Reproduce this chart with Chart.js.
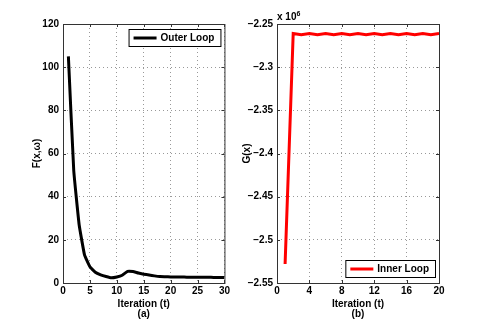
<!DOCTYPE html>
<html>
<head>
<meta charset="utf-8">
<script src="https://cdn.jsdelivr.net/npm/chart.js@4.4.0/dist/chart.umd.min.js"></script>
<style>
  html, body { margin: 0; padding: 0; background: #fff; }
  .wrap { position: absolute; top: 0; height: 319px; }
  #w1 { left: 0; width: 232px; }
  #w2 { left: 240px; width: 245px; }
  #exp { position: absolute; left: 277px; top: 10px; font: bold 10px "Liberation Sans", Arial, sans-serif; }
  #exp sup { font-size: 7px; }
</style>
</head>
<body>
<div class="wrap" id="w1"><canvas id="c1"></canvas></div>
<div class="wrap" id="w2"><canvas id="c2"></canvas></div>
<div id="exp">x 10<sup>6</sup></div>
<script>
// (a) outer loop
const outerT = [1,2,3,4,5,6,7,8,9,10,11,12,13,14,15,16,17,18,19,20,21,22,23,24,25,26,27,28,29,30];
const outerF = [105,52,27,13,7.5,5,3.8,3,2.4,2.8,3.6,5.4,5.3,4.6,4.1,3.7,3.3,3.0,2.9,2.8,2.8,2.8,2.7,2.7,2.7,2.7,2.7,2.6,2.6,2.6];

// (b) inner loop
const innerT = [1,2,3,4,5,6,7,8,9,10,11,12,13,14,15,16,17,18,19,20];
const innerG = [-2528000,-2261000,-2262500,-2261000,-2262500,-2261000,-2262500,-2261000,-2262500,-2261000,
                -2262500,-2261000,-2262500,-2261000,-2262500,-2261000,-2262500,-2261000,-2262500,-2261000];

const FONT = "'Liberation Sans', Arial, sans-serif";
Chart.defaults.font.family = FONT;
Chart.defaults.font.weight = 'bold';
Chart.defaults.font.size = 10;
Chart.defaults.color = '#000';

// frame, inward ticks and legend box drawn inside plot area, matlab style
const boxLegend = {
    id: 'boxLegend',
    afterDraw(chart, args, opts) {
        const ctx = chart.ctx, a = chart.chartArea;
        ctx.save();
        ctx.strokeStyle = '#333';
        ctx.lineWidth = 1;
        ctx.strokeRect(a.left + 0.5, a.top + 0.5, a.right - a.left, a.bottom - a.top);

        const sx = chart.scales.x, sy = chart.scales.y;
        ctx.beginPath();
        sx.ticks.forEach(t => {
            const px = Math.round(sx.getPixelForValue(t.value)) + 0.5;
            ctx.moveTo(px, a.bottom); ctx.lineTo(px, a.bottom - 3);
            ctx.moveTo(px, a.top); ctx.lineTo(px, a.top + 3);
        });
        sy.ticks.forEach(t => {
            const py = Math.round(sy.getPixelForValue(t.value)) + 0.5;
            ctx.moveTo(a.left, py); ctx.lineTo(a.left + 3, py);
            ctx.moveTo(a.right, py); ctx.lineTo(a.right - 3, py);
        });
        ctx.stroke();

        const ds = chart.data.datasets[0];
        ctx.font = 'bold 10px ' + FONT;
        const tw = ctx.measureText(ds.label).width;
        const w = tw + 38, h = 17;
        const x = a.right - w - 4;
        const y = opts.pos === 'top' ? a.top + 5 : a.bottom - h - 6;
        ctx.fillStyle = '#fff';
        ctx.fillRect(x, y, w, h);
        ctx.strokeStyle = '#000';
        ctx.strokeRect(x + 0.5, y + 0.5, w, h);
        ctx.strokeStyle = ds.borderColor;
        ctx.lineWidth = 3;
        ctx.beginPath();
        ctx.moveTo(x + 5, y + h / 2 + 0.5);
        ctx.lineTo(x + 28, y + h / 2 + 0.5);
        ctx.stroke();
        ctx.fillStyle = '#000';
        ctx.textBaseline = 'middle';
        ctx.fillText(ds.label, x + 32, y + h / 2 + 1);
        ctx.restore();
    }
};

const gridStyle = { color: '#999', lineWidth: 1, drawTicks: false };
const borderStyle = { display: false, dash: [1, 3] };

function makeChart(id, xs, ys, label, color, tension, xmax, xstep, ymin, ymax, ystep, yTitle, sub, pos, yw, pad, fmt) {
    new Chart(document.getElementById(id), {
        type: 'line',
        data: {
            datasets: [{
                label: label,
                data: xs.map((t, i) => ({ x: t, y: ys[i] })),
                borderColor: color,
                borderWidth: 3,
                pointRadius: 0,
                tension: tension,
                fill: false
            }]
        },
        options: {
            responsive: true,
            maintainAspectRatio: false,
            animation: false,
            layout: { padding: pad },
            plugins: { legend: { display: false }, tooltip: { enabled: false }, boxLegend: { pos: pos } },
            scales: {
                x: {
                    type: 'linear', min: 0, max: xmax,
                    ticks: { stepSize: xstep, padding: 2, maxRotation: 0 },
                    grid: gridStyle,
                    border: borderStyle,
                    title: { display: true, text: ['Iteration (t)', sub], padding: 0, font: { size: 10, weight: 'bold', lineHeight: 1.0 } },
                    afterFit(s) { s.height = 36; }
                },
                y: {
                    min: ymin, max: ymax,
                    ticks: { stepSize: ystep, padding: 4, callback: fmt },
                    grid: gridStyle,
                    border: borderStyle,
                    title: { display: true, text: yTitle, padding: 0 },
                    afterFit(s) { s.width = yw; }
                }
            }
        },
        plugins: [boxLegend]
    });
}

makeChart('c1', outerT, outerF, 'Outer Loop', '#000', 0.1, 30, 5, 0, 120, 20, 'F(x,\u03c9)', '(a)', 'top',
    32, { left: 31, right: 7, top: 24, bottom: 0 }, v => v);

makeChart('c2', innerT, innerG, 'Inner Loop', '#f00', 0, 20, 4, -2550000, -2250000, 50000, 'G(x)', '(b)', 'bottom',
    36, { left: 1, right: 46, top: 24, bottom: 0 },
    v => String(Math.round(v / 1e4) / 100).replace('-', '\u2212'));
</script>
</body>
</html>
